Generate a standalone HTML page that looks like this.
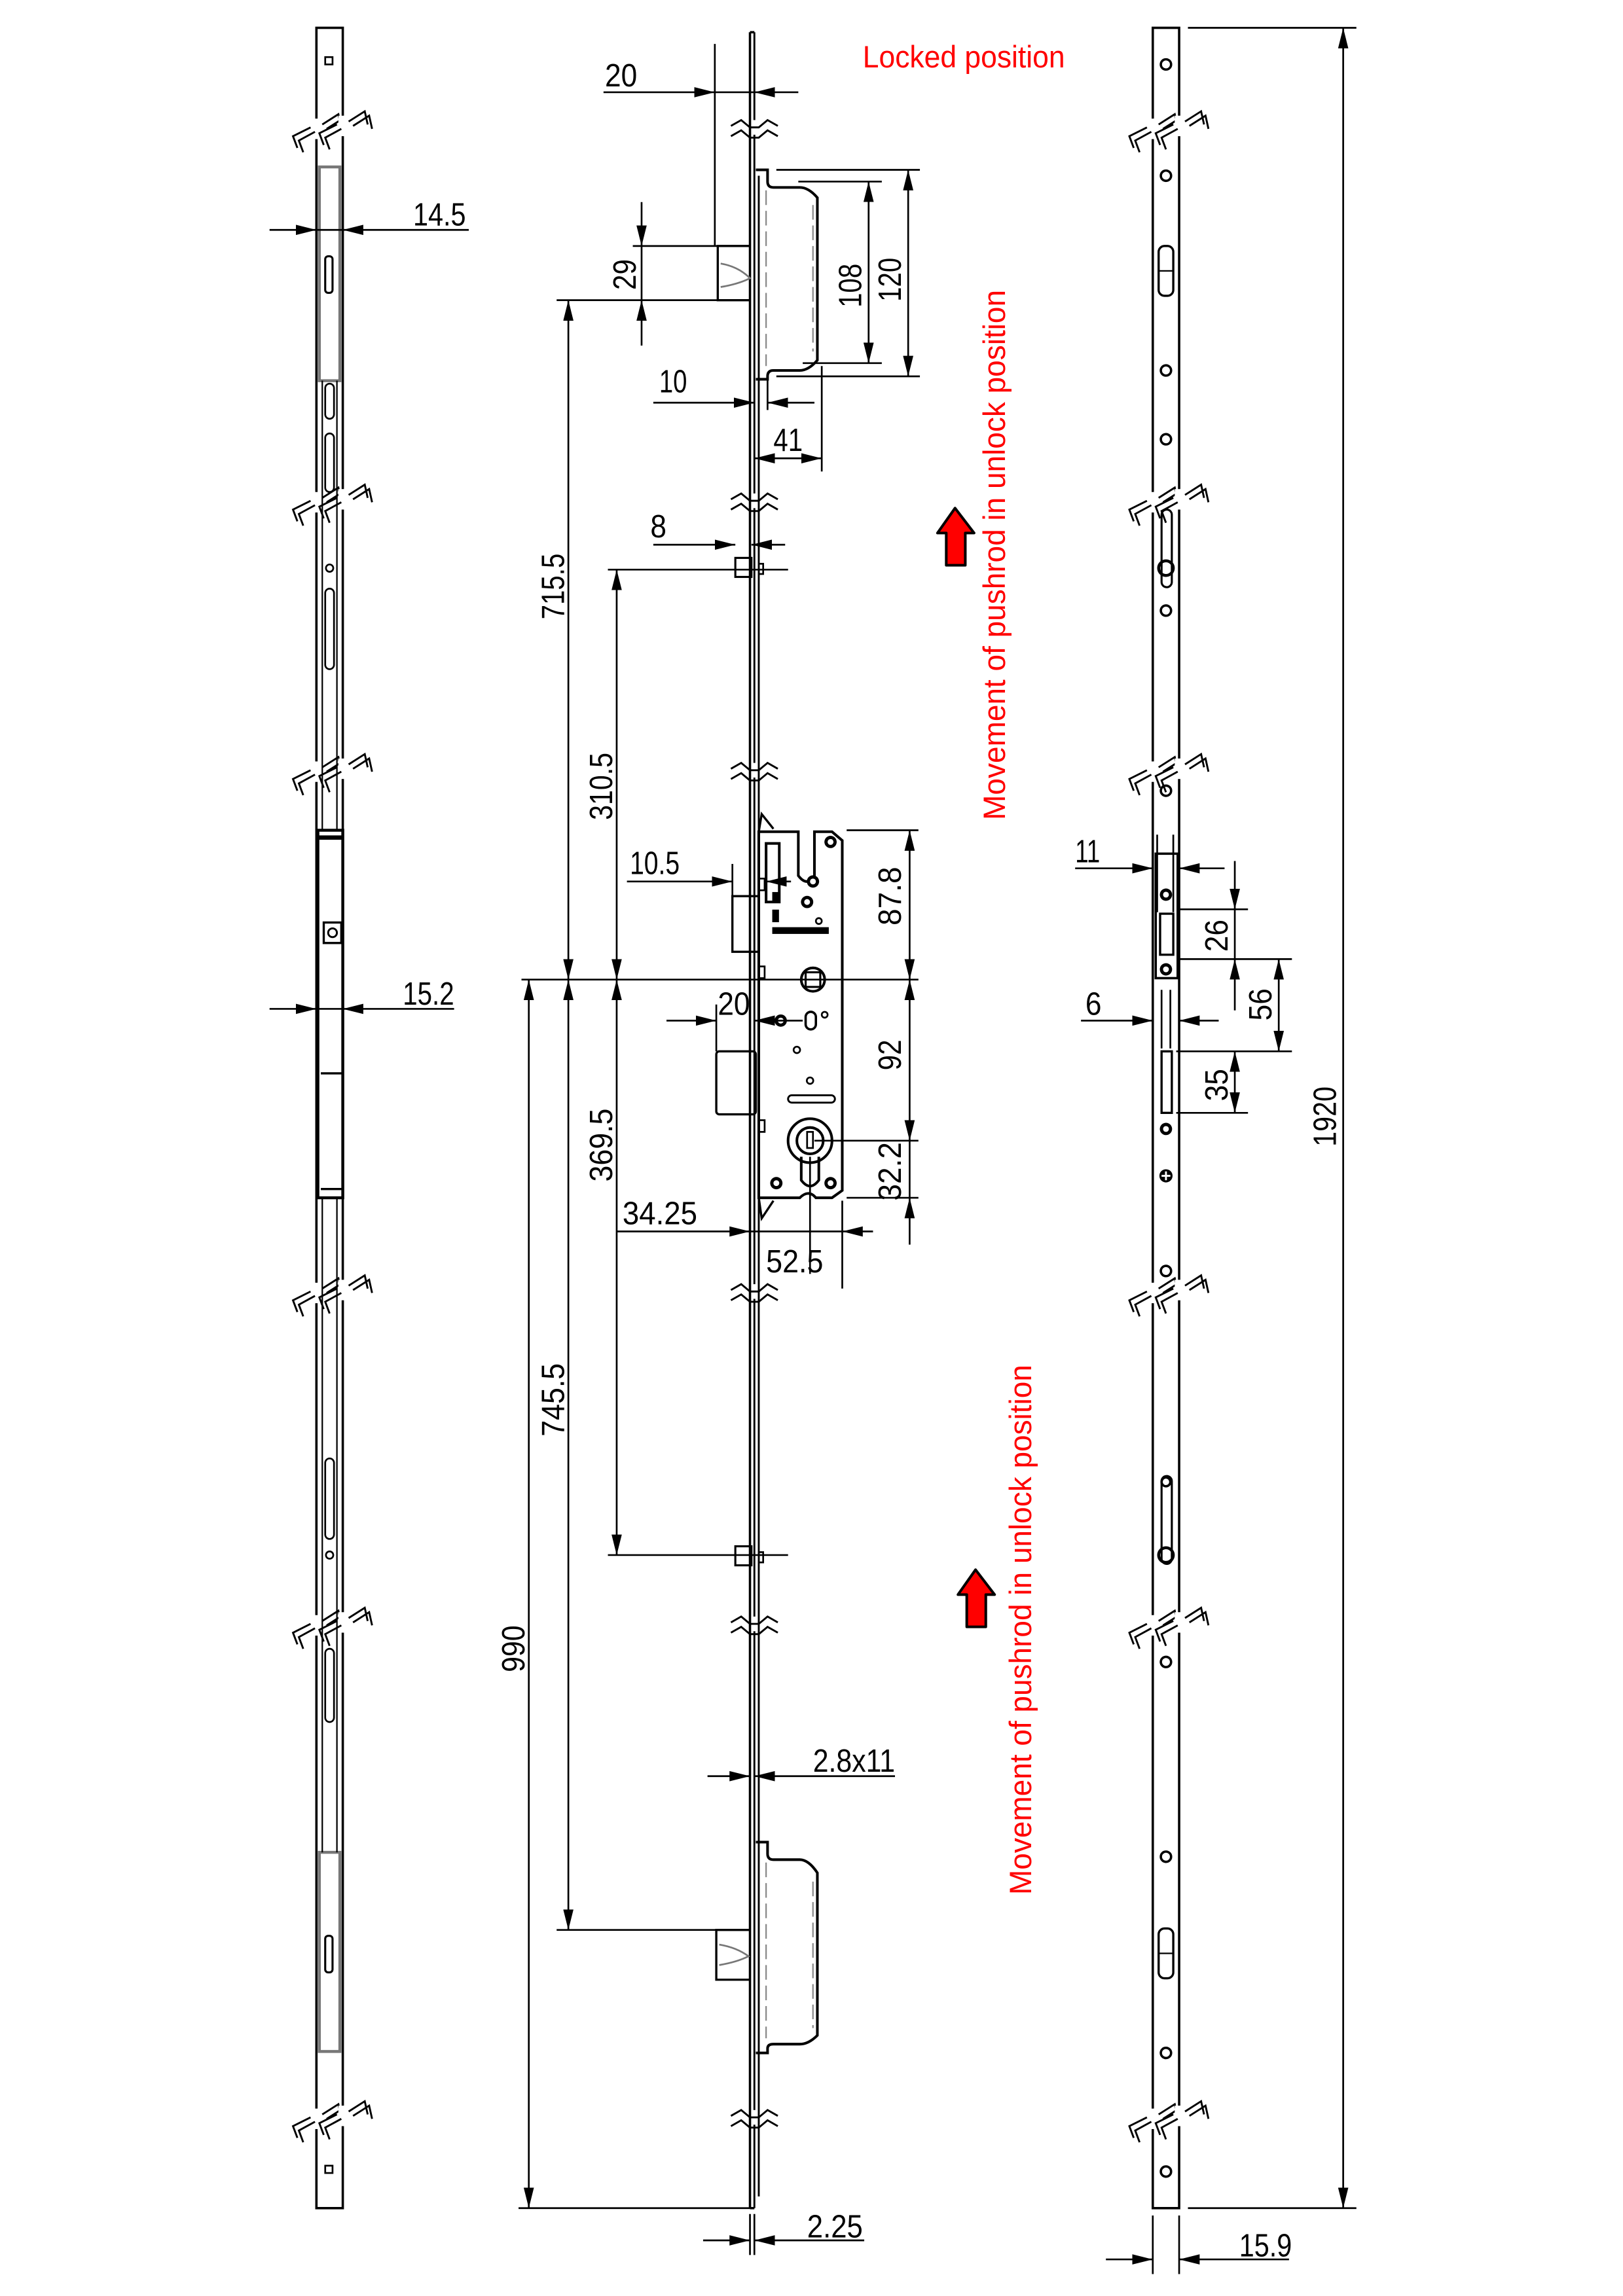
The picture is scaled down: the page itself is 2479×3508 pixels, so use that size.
<!DOCTYPE html>
<html><head><meta charset="utf-8"><style>
html,body{margin:0;padding:0;background:#fff}
svg{display:block}
text{font-family:"Liberation Sans Narrow","Liberation Sans","DejaVu Sans Condensed",sans-serif;font-size:22px;fill:#000;font-weight:normal}
.r{fill:#f00}
</style></head><body>
<svg width="2479" height="3508" viewBox="0 0 1108 1568" xmlns="http://www.w3.org/2000/svg">
<defs>
<marker id="a" viewBox="0 0 14 7" refX="14" refY="3.5" markerWidth="14" markerHeight="7" markerUnits="userSpaceOnUse" orient="auto-start-reverse"><path d="M0,0L14,3.5L0,7z" fill="#000"/></marker>
<g id="be"><rect x="-3" y="-7" width="6" height="14" fill="#fff"/>
<polyline points="-13,13 -16,5 -4,-1" fill="none" stroke="#000" stroke-width="1.3"/>
<polyline points="4,-3 15,-10 17,-1" fill="none" stroke="#000" stroke-width="1.3"/>
<polyline points="-9,16 -12,8 -1,2" fill="none" stroke="#000" stroke-width="1.3"/>
<polyline points="7,0 18,-7 20,2" fill="none" stroke="#000" stroke-width="1.3"/>
</g>
<g id="bk2"><use href="#be" x="0"/><use href="#be" x="18" y="-2"/></g>
<g id="zz"><rect x="-2" y="-6" width="4" height="10" fill="#fff"/>
<polyline points="-16,-2 -9,-6 -3,-1 3,-1 9,-6 16,-2" fill="none" stroke="#000" stroke-width="1.3"/>
<polyline points="-16,5 -9,1 -3,6 3,6 9,1 16,5" fill="none" stroke="#000" stroke-width="1.3"/></g>
<g id="scr"><circle r="4.2" fill="#000"/><circle r="2" fill="#fff"/></g>
</defs>
<g fill="none" stroke="#000" stroke-width="1.6">
<rect x="216" y="19" width="18" height="1489"/>
<rect x="222" y="39" width="5" height="5" stroke-width="1.2"/>
<rect x="222" y="1479" width="5" height="5" stroke-width="1.2"/>
<rect x="218" y="114" width="14" height="146" stroke="#777" stroke-width="2"/>
<rect x="222" y="175" width="5" height="25" rx="2" stroke-width="1.4"/>
<rect x="218" y="1265" width="14" height="136" stroke="#777" stroke-width="2"/>
<rect x="222" y="1322" width="5" height="25" rx="2" stroke-width="1.4"/>
<line x1="220" y1="260" x2="220" y2="567" stroke-width="1"/><line x1="230" y1="260" x2="230" y2="567" stroke-width="1"/>
<line x1="220" y1="818" x2="220" y2="1265" stroke-width="1"/><line x1="230" y1="818" x2="230" y2="1265" stroke-width="1"/>
<rect x="222" y="262" width="6" height="24" rx="3" stroke-width="1.2"/>
<rect x="222" y="296" width="6" height="40" rx="3" stroke-width="1.2"/>
<rect x="222" y="402" width="6" height="55" rx="3" stroke-width="1.2"/>
<circle cx="225" cy="388" r="2.5" stroke-width="1.2"/>
<rect x="222" y="996" width="6" height="55" rx="3" stroke-width="1.2"/>
<circle cx="225" cy="1062" r="2.5" stroke-width="1.2"/>
<rect x="222" y="1126" width="6" height="50" rx="3" stroke-width="1.2"/>
<rect x="217" y="567" width="17" height="251" stroke-width="2"/>
<line x1="217" y1="572" x2="234" y2="572" stroke-width="3"/>
<rect x="221" y="630" width="12" height="14" stroke-width="1.5"/>
<circle cx="227" cy="637" r="3" stroke-width="1.3"/>
<line x1="219" y1="733" x2="234" y2="733" stroke-width="1.5"/>
<line x1="219" y1="812" x2="234" y2="812" stroke-width="1.5"/>
<line x1="512" y1="22" x2="512" y2="1508"/>
<line x1="515" y1="22" x2="515" y2="1508" stroke-width="1.3"/>
<line x1="518" y1="120" x2="518" y2="1500" stroke-width="1.3"/>
<line x1="512" y1="22" x2="515" y2="22"/>
<line x1="512" y1="1508" x2="515" y2="1508"/>
<path d="M516,116 H524 V124 Q524,128 528,128 H546 Q552,128 558,135 L558,246 Q552,253 546,253 H528 Q524,253 524,257 V259 H516" stroke-width="1.8"/>
<line x1="523" y1="130" x2="523" y2="250" stroke="#888" stroke-width="1" stroke-dasharray="10 4"/>
<line x1="555" y1="140" x2="555" y2="240" stroke="#888" stroke-width="1" stroke-dasharray="10 4"/>
<path d="M512,168 H490 V205 H512" stroke-width="1.5"/>
<path d="M492,180 Q504,182 512,190 Q504,194 492,196" stroke="#777" stroke-width="1.2"/>
<path d="M516,1258 H524 V1266 Q524,1270 528,1270 H546 Q552,1270 558,1279 L558,1390 Q552,1396 546,1396 H528 Q524,1396 524,1399 V1402 H516" stroke-width="1.8"/>
<line x1="523" y1="1272" x2="523" y2="1392" stroke="#888" stroke-width="1" stroke-dasharray="10 4"/>
<line x1="555" y1="1285" x2="555" y2="1385" stroke="#888" stroke-width="1" stroke-dasharray="10 4"/>
<path d="M512,1318 H489 V1352 H512" stroke-width="1.5"/>
<path d="M491,1328 Q503,1330 511,1336 Q503,1340 491,1342" stroke="#777" stroke-width="1.2"/>
<rect x="502" y="381" width="11" height="13" stroke-width="1.4"/><rect x="518" y="385" width="3" height="7" stroke-width="1.2"/>
<rect x="502" y="1056" width="11" height="13" stroke-width="1.4"/><rect x="518" y="1060" width="3" height="7" stroke-width="1.2"/>
<path d="M518,568 H545 V598 Q551,606 556,598 V568 H568 L575,574 V813 L568,818 H557 Q552,812 546,818 H518 Z" stroke-width="1.8"/>
<path d="M518,568 L520,556 L528,566" stroke-width="1.5"/>
<path d="M518,818 L520,832 L528,820" stroke-width="1.5"/>
<rect x="523" y="576" width="9" height="40" stroke-width="1.8"/>
<rect x="500" y="612" width="18" height="38" stroke-width="1.5"/>
<rect x="489" y="718" width="27" height="43" rx="2" stroke-width="1.5"/>
<rect x="518" y="600" width="4" height="8" stroke-width="1.2"/><rect x="518" y="660" width="4" height="8" stroke-width="1.2"/><rect x="518" y="765" width="4" height="8" stroke-width="1.2"/>
<circle cx="555" cy="669" r="8" stroke-width="1.8"/><rect x="550" y="664" width="10" height="10" stroke-width="1.4"/>
<rect x="550" y="691" width="7" height="12" rx="3.5" stroke-width="1.6"/>
<circle cx="563" cy="693" r="2" stroke-width="1.2"/><circle cx="544" cy="717" r="2.2" stroke-width="1.2"/><circle cx="553" cy="738" r="2.2" stroke-width="1.2"/><circle cx="559" cy="629" r="2" stroke-width="1.2"/>
<rect x="538" y="748" width="32" height="5" rx="2.5" stroke-width="1.3"/>
<circle cx="553" cy="779" r="15" stroke-width="1.8"/><circle cx="553" cy="779" r="9" stroke-width="1.8"/>
<path d="M547,790 V806 Q553,814 559,806 V790" stroke-width="1.8"/>
<rect x="551" y="773" width="4" height="11" stroke-width="1.2"/>
<rect x="528" y="610" width="3" height="6" fill="#000"/><rect x="528" y="622" width="3" height="7" fill="#000"/><rect x="528" y="634" width="37" height="3" fill="#000"/>
</g>
<use href="#scr" x="567" y="575"/><use href="#scr" x="555" y="602"/><use href="#scr" x="551" y="616"/><use href="#scr" x="533" y="697"/><use href="#scr" x="530" y="808"/><use href="#scr" x="567" y="808"/>
<g fill="none" stroke="#000" stroke-width="1.6">
<rect x="787" y="19" width="18" height="1489"/>
<rect x="789" y="583" width="15" height="85" stroke-width="1.6"/>
<rect x="792" y="624" width="9" height="28" stroke-width="1.5"/>
<rect x="793" y="718" width="7" height="42" stroke-width="1.5"/>
<rect x="791" y="168" width="10" height="34" rx="4" stroke-width="1.5"/><line x1="791" y1="185" x2="801" y2="185" stroke-width="1"/>
<rect x="791" y="1317" width="10" height="34" rx="4" stroke-width="1.5"/><line x1="791" y1="1334" x2="801" y2="1334" stroke-width="1"/>
<rect x="793" y="348" width="7" height="53" rx="3.5" stroke-width="1.4"/>
<circle cx="796" cy="388" r="5" stroke-width="2"/>
<rect x="793" y="1008" width="7" height="60" rx="3.5" stroke-width="1.4"/>
<circle cx="796" cy="1062" r="5" stroke-width="2"/>
</g>
<g fill="none" stroke="#000" stroke-width="1.6">
<circle cx="796" cy="44" r="3.5"/><circle cx="796" cy="120" r="3.5"/><circle cx="796" cy="253" r="3.5"/><circle cx="796" cy="300" r="3.5"/><circle cx="796" cy="417" r="3.5"/><circle cx="796" cy="540" r="3.5"/><circle cx="796" cy="868" r="3.5"/><circle cx="796" cy="1135" r="3.5"/><circle cx="796" cy="1268" r="3.5"/><circle cx="796" cy="1402" r="3.5"/><circle cx="796" cy="1483" r="3.5"/><circle cx="796" cy="1012" r="3"/>
</g>
<use href="#scr" x="796" y="611"/><use href="#scr" x="796" y="662"/><use href="#scr" x="796" y="771"/>
<circle cx="796" cy="803" r="4.5" fill="#000"/><path d="M793,803h6M796,800v6" stroke="#fff" stroke-width="1.3"/>
<use href="#bk2" x="216" y="88"/><use href="#bk2" x="216" y="343"/><use href="#bk2" x="216" y="527"/><use href="#bk2" x="216" y="883"/><use href="#bk2" x="216" y="1110"/><use href="#bk2" x="216" y="1447"/>
<use href="#bk2" x="787" y="88"/><use href="#bk2" x="787" y="343"/><use href="#bk2" x="787" y="527"/><use href="#bk2" x="787" y="883"/><use href="#bk2" x="787" y="1110"/><use href="#bk2" x="787" y="1447"/>
<use href="#zz" x="515" y="88"/><use href="#zz" x="515" y="343"/><use href="#zz" x="515" y="527"/><use href="#zz" x="515" y="883"/><use href="#zz" x="515" y="1110"/><use href="#zz" x="515" y="1447"/>
<g stroke="#000" stroke-width="1.2" fill="none">
<line x1="488" y1="30" x2="488" y2="168"/>
<line x1="412" y1="63" x2="488" y2="63" marker-end="url(#a)"/><line x1="545" y1="63" x2="515" y2="63" marker-end="url(#a)"/><line x1="488" y1="63" x2="515" y2="63"/>
<line x1="184" y1="157" x2="216" y2="157" marker-end="url(#a)"/><line x1="320" y1="157" x2="234" y2="157" marker-end="url(#a)"/><line x1="216" y1="157" x2="234" y2="157"/>
<line x1="432" y1="168" x2="512" y2="168"/><line x1="380" y1="205" x2="512" y2="205"/>
<line x1="438" y1="138" x2="438" y2="168" marker-end="url(#a)"/><line x1="438" y1="236" x2="438" y2="205" marker-end="url(#a)"/><line x1="438" y1="168" x2="438" y2="205"/>
<line x1="545" y1="124" x2="602" y2="124"/><line x1="548" y1="248" x2="602" y2="248"/>
<line x1="593" y1="124" x2="593" y2="248" marker-start="url(#a)" marker-end="url(#a)"/>
<line x1="530" y1="116" x2="628" y2="116"/><line x1="530" y1="257" x2="628" y2="257"/>
<line x1="620" y1="116" x2="620" y2="257" marker-start="url(#a)" marker-end="url(#a)"/>
<line x1="524" y1="258" x2="524" y2="280"/>
<line x1="446" y1="275" x2="515" y2="275" marker-end="url(#a)"/><line x1="556" y1="275" x2="524" y2="275" marker-end="url(#a)"/>
<line x1="561" y1="250" x2="561" y2="322"/>
<line x1="515" y1="313" x2="561" y2="313" marker-start="url(#a)" marker-end="url(#a)"/>
<line x1="446" y1="372" x2="502" y2="372" marker-end="url(#a)"/><line x1="536" y1="372" x2="513" y2="372" marker-end="url(#a)"/>
<line x1="415" y1="389" x2="538" y2="389"/>
<line x1="388" y1="205" x2="388" y2="669" marker-start="url(#a)" marker-end="url(#a)"/>
<line x1="356" y1="669" x2="627" y2="669"/>
<line x1="421" y1="389" x2="421" y2="669" marker-start="url(#a)" marker-end="url(#a)"/>
<line x1="500" y1="590" x2="500" y2="612"/>
<line x1="428" y1="602" x2="500" y2="602" marker-end="url(#a)"/><line x1="540" y1="602" x2="523" y2="602" marker-end="url(#a)"/>
<line x1="578" y1="567" x2="627" y2="567"/>
<line x1="621" y1="567" x2="621" y2="669" marker-start="url(#a)" marker-end="url(#a)"/>
<line x1="621" y1="669" x2="621" y2="779" marker-start="url(#a)" marker-end="url(#a)"/>
<line x1="556" y1="779" x2="627" y2="779"/>
<line x1="578" y1="818" x2="627" y2="818"/>
<line x1="621" y1="850" x2="621" y2="818" marker-end="url(#a)"/><line x1="621" y1="779" x2="621" y2="818"/>
<line x1="489" y1="686" x2="489" y2="718"/>
<line x1="455" y1="697" x2="489" y2="697" marker-end="url(#a)"/><line x1="548" y1="697" x2="515" y2="697" marker-end="url(#a)"/>
<line x1="421" y1="669" x2="421" y2="1062" marker-start="url(#a)" marker-end="url(#a)"/>
<line x1="415" y1="1062" x2="538" y2="1062"/>
<line x1="421" y1="841" x2="512" y2="841" marker-end="url(#a)"/>
<line x1="596" y1="841" x2="575" y2="841" marker-end="url(#a)"/>
<line x1="575" y1="820" x2="575" y2="880"/>
<line x1="553" y1="790" x2="553" y2="870"/>
<line x1="512" y1="841" x2="575" y2="841"/>
<line x1="388" y1="669" x2="388" y2="1318" marker-start="url(#a)" marker-end="url(#a)"/>
<line x1="380" y1="1318" x2="490" y2="1318"/>
<line x1="361" y1="669" x2="361" y2="1508" marker-start="url(#a)" marker-end="url(#a)"/>
<line x1="354" y1="1508" x2="512" y2="1508"/>
<line x1="184" y1="689" x2="216" y2="689" marker-end="url(#a)"/><line x1="310" y1="689" x2="234" y2="689" marker-end="url(#a)"/><line x1="216" y1="689" x2="234" y2="689"/>
<line x1="483" y1="1213" x2="512" y2="1213" marker-end="url(#a)"/><line x1="611" y1="1213" x2="515" y2="1213" marker-end="url(#a)"/>
<line x1="512" y1="1512" x2="512" y2="1540"/><line x1="515" y1="1512" x2="515" y2="1540"/>
<line x1="480" y1="1530" x2="512" y2="1530" marker-end="url(#a)"/><line x1="590" y1="1530" x2="515" y2="1530" marker-end="url(#a)"/>
<line x1="790" y1="570" x2="790" y2="623"/><line x1="801" y1="570" x2="801" y2="623"/>
<line x1="734" y1="593" x2="787" y2="593" marker-end="url(#a)"/><line x1="836" y1="593" x2="805" y2="593" marker-end="url(#a)"/>
<line x1="805" y1="621" x2="852" y2="621"/><line x1="805" y1="655" x2="882" y2="655"/>
<line x1="843" y1="588" x2="843" y2="621" marker-end="url(#a)"/><line x1="843" y1="690" x2="843" y2="655" marker-end="url(#a)"/><line x1="843" y1="621" x2="843" y2="655"/>
<line x1="873" y1="655" x2="873" y2="718" marker-start="url(#a)" marker-end="url(#a)"/>
<line x1="803" y1="718" x2="882" y2="718"/>
<line x1="793" y1="676" x2="793" y2="716"/><line x1="799" y1="676" x2="799" y2="716"/>
<line x1="738" y1="697" x2="787" y2="697" marker-end="url(#a)"/><line x1="832" y1="697" x2="805" y2="697" marker-end="url(#a)"/>
<line x1="803" y1="760" x2="852" y2="760"/>
<line x1="843" y1="718" x2="843" y2="760" marker-start="url(#a)" marker-end="url(#a)"/>
<line x1="811" y1="19" x2="926" y2="19"/><line x1="811" y1="1508" x2="926" y2="1508"/>
<line x1="917" y1="19" x2="917" y2="1508" marker-start="url(#a)" marker-end="url(#a)"/>
<line x1="787" y1="1513" x2="787" y2="1553"/><line x1="805" y1="1513" x2="805" y2="1553"/>
<line x1="755" y1="1543" x2="787" y2="1543" marker-end="url(#a)"/><line x1="880" y1="1543" x2="805" y2="1543" marker-end="url(#a)"/>
</g>
<text x="413" y="59" textLength="22" lengthAdjust="spacingAndGlyphs">20</text>
<text x="282" y="154" textLength="36" lengthAdjust="spacingAndGlyphs">14.5</text>
<text x="450" y="268" textLength="19" lengthAdjust="spacingAndGlyphs">10</text>
<text x="528" y="308" textLength="20" lengthAdjust="spacingAndGlyphs">41</text>
<text x="444" y="367" textLength="11" lengthAdjust="spacingAndGlyphs">8</text>
<text x="430" y="597" textLength="34" lengthAdjust="spacingAndGlyphs">10.5</text>
<text x="490" y="693" textLength="22" lengthAdjust="spacingAndGlyphs">20</text>
<text x="425" y="836" textLength="51" lengthAdjust="spacingAndGlyphs">34.25</text>
<text x="523" y="869" textLength="39" lengthAdjust="spacingAndGlyphs">52.5</text>
<text x="275" y="686" textLength="35" lengthAdjust="spacingAndGlyphs">15.2</text>
<text x="555" y="1210" textLength="56" lengthAdjust="spacingAndGlyphs">2.8x11</text>
<text x="551" y="1528" textLength="38" lengthAdjust="spacingAndGlyphs">2.25</text>
<text x="734" y="589" textLength="17" lengthAdjust="spacingAndGlyphs">11</text>
<text x="741" y="693" textLength="11" lengthAdjust="spacingAndGlyphs">6</text>
<text x="846" y="1541" textLength="36" lengthAdjust="spacingAndGlyphs">15.9</text>
<text transform="translate(434,198) rotate(-90)" textLength="21" lengthAdjust="spacingAndGlyphs">29</text>
<text transform="translate(588,210) rotate(-90)" textLength="30" lengthAdjust="spacingAndGlyphs">108</text>
<text transform="translate(615,206) rotate(-90)" textLength="30" lengthAdjust="spacingAndGlyphs">120</text>
<text transform="translate(385,423) rotate(-90)" textLength="45" lengthAdjust="spacingAndGlyphs">715.5</text>
<text transform="translate(418,560) rotate(-90)" textLength="46" lengthAdjust="spacingAndGlyphs">310.5</text>
<text transform="translate(615,632) rotate(-90)" textLength="40" lengthAdjust="spacingAndGlyphs">87.8</text>
<text transform="translate(615,731) rotate(-90)" textLength="21" lengthAdjust="spacingAndGlyphs">92</text>
<text transform="translate(615,820) rotate(-90)" textLength="40" lengthAdjust="spacingAndGlyphs">32.2</text>
<text transform="translate(418,807) rotate(-90)" textLength="50" lengthAdjust="spacingAndGlyphs">369.5</text>
<text transform="translate(385,981) rotate(-90)" textLength="50" lengthAdjust="spacingAndGlyphs">745.5</text>
<text transform="translate(358,1142) rotate(-90)" textLength="32" lengthAdjust="spacingAndGlyphs">990</text>
<text transform="translate(838,650) rotate(-90)" textLength="22" lengthAdjust="spacingAndGlyphs">26</text>
<text transform="translate(868,697) rotate(-90)" textLength="22" lengthAdjust="spacingAndGlyphs">56</text>
<text transform="translate(838,752) rotate(-90)" textLength="22" lengthAdjust="spacingAndGlyphs">35</text>
<text transform="translate(912,783) rotate(-90)" textLength="41" lengthAdjust="spacingAndGlyphs">1920</text>
<text class="r" x="589" y="46" textLength="138" lengthAdjust="spacingAndGlyphs" style="font-size:21px">Locked position</text>
<text class="r" transform="translate(686,560) rotate(-90)" textLength="362" lengthAdjust="spacingAndGlyphs" style="font-size:21px">Movement of pushrod in unlock position</text>
<text class="r" transform="translate(704,1294) rotate(-90)" textLength="362" lengthAdjust="spacingAndGlyphs" style="font-size:21px">Movement of pushrod in unlock position</text>
<path d="M652,347 L665,364 L659,364 L659,386 L646,386 L646,364 L640,364 Z" fill="#f00" stroke="#000" stroke-width="1.8" stroke-linejoin="round"/>
<path d="M666,1072 L679,1089 L673,1089 L673,1111 L660,1111 L660,1089 L654,1089 Z" fill="#f00" stroke="#000" stroke-width="1.8" stroke-linejoin="round"/>
</svg>
</body></html>
